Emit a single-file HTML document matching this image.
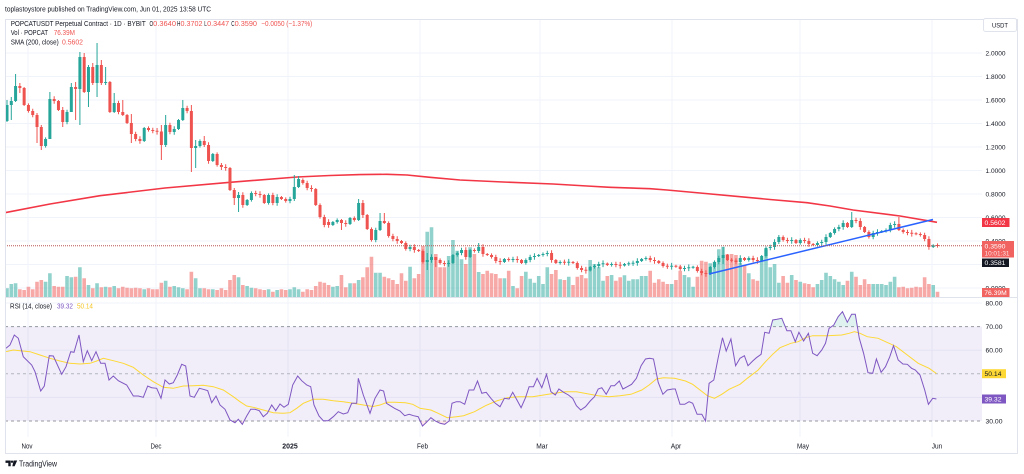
<!DOCTYPE html>
<html><head><meta charset="utf-8">
<style>
html,body{margin:0;padding:0;background:#fff;width:1024px;height:474px;overflow:hidden}
svg{display:block;font-family:"Liberation Sans",sans-serif}
</style></head><body>
<svg id="c" width="1024" height="474" viewBox="0 0 1024 474" xmlns="http://www.w3.org/2000/svg">
<defs>
<clipPath id="ob"><rect x="0" y="290" width="1024" height="36.6"/></clipPath>
<clipPath id="os"><rect x="0" y="421" width="1024" height="16"/></clipPath>
</defs>
<rect width="1024" height="474" fill="#fff"/>
<!-- grid -->
<g stroke="#f0f3fa" stroke-width="1">
<path d="M5 53H982M5 76.5H982M5 100H982M5 123.5H982M5 147H982M5 170.5H982M5 194H982M5 217.5H982M5 241H982M5 264.5H982M5 288H982"/>
<path d="M28 20V437M156 20V437M288 20V437M420 20V437M540 20V437M672 20V437M800 20V437M932 20V437"/>
<path d="M5 303H982M5 350.2H982M5 397.4H982"/>
</g>
<!-- RSI band -->
<rect x="5" y="326.6" width="977" height="94.4" fill="#7e57c2" fill-opacity="0.1"/>
<g stroke="#9598a1" stroke-width="1" stroke-dasharray="3,3">
<path d="M5 326.6H982M5 421H982"/>
<path d="M5 373.8H982" stroke="#b2b5be"/>
</g>
<!-- volume -->
<path id="upV" fill="#26a69a" fill-opacity="0.5"/>
<path id="dnV" fill="#ef5350" fill-opacity="0.5"/>
<!-- SMA -->
<path id="sma" fill="none" stroke="#f23645" stroke-width="1.6" stroke-linejoin="round"/>
<!-- candles -->
<path id="upW" fill="none" stroke="#26a69a" stroke-width="1"/>
<path id="dnW" fill="none" stroke="#ef5350" stroke-width="1"/>
<path id="upB" fill="#26a69a"/>
<path id="dnB" fill="#ef5350"/>
<!-- trendline -->
<line x1="709" y1="274" x2="933" y2="219.5" stroke="#2962ff" stroke-width="1.5"/>
<!-- price line -->
<line x1="5" y1="245.8" x2="982" y2="245.8" stroke="#b85454" stroke-width="1" stroke-dasharray="1,1"/>
<!-- RSI -->
<polygon id="obf" fill="#26a69a" fill-opacity="0.15" clip-path="url(#ob)"/>
<polygon id="osf" fill="#f23645" fill-opacity="0.12" clip-path="url(#os)"/>
<polyline id="rsima" fill="none" stroke="#fdd835" stroke-width="1"/>
<polyline id="rsi" fill="none" stroke="#7e57c2" stroke-width="1"/>
<!-- frame -->
<rect x="5.5" y="19.5" width="1012" height="434" fill="none" stroke="#e0e3eb" stroke-width="1"/>
<line x1="5" y1="297.5" x2="1018" y2="297.5" stroke="#e0e3eb" stroke-width="1"/>

<!-- header -->
<g font-size="7" fill="#131722">
<text x="5" y="11.5" textLength="206" lengthAdjust="spacingAndGlyphs">toplastoystore published on TradingView.com, Jun 01, 2025 13:58 UTC</text>
<text x="10.7" y="26.2" textLength="135" lengthAdjust="spacingAndGlyphs">POPCATUSDT Perpetual Contract · 1D · BYBIT</text>
<text x="149.5" y="26.2" textLength="3.6" lengthAdjust="spacingAndGlyphs">O</text>
<text x="153.2" y="26.2" textLength="22.8" lengthAdjust="spacingAndGlyphs" fill="#ef5350">0.3640</text>
<text x="177" y="26.2" textLength="3.4" lengthAdjust="spacingAndGlyphs">H</text>
<text x="180.5" y="26.2" textLength="22" lengthAdjust="spacingAndGlyphs" fill="#ef5350">0.3702</text>
<text x="204.3" y="26.2" textLength="2.6" lengthAdjust="spacingAndGlyphs">L</text>
<text x="207.2" y="26.2" textLength="22" lengthAdjust="spacingAndGlyphs" fill="#ef5350">0.3447</text>
<text x="231.2" y="26.2" textLength="3.3" lengthAdjust="spacingAndGlyphs">C</text>
<text x="234.6" y="26.2" textLength="22.4" lengthAdjust="spacingAndGlyphs" fill="#ef5350">0.3590</text>
<text x="261.3" y="26.2" textLength="51" lengthAdjust="spacingAndGlyphs" fill="#ef5350">−0.0050 (−1.37%)</text>
<text x="10.7" y="35.2" textLength="37.3" lengthAdjust="spacingAndGlyphs">Vol · POPCAT</text>
<text x="53.7" y="35.2" textLength="21.3" lengthAdjust="spacingAndGlyphs" fill="#ef5350">76.39M</text>
<text x="10.7" y="44.7" textLength="48" lengthAdjust="spacingAndGlyphs">SMA (200, close)</text>
<text x="62" y="44.7" textLength="21" lengthAdjust="spacingAndGlyphs" fill="#ef5350">0.5602</text>
<text x="10" y="308.5" textLength="42" lengthAdjust="spacingAndGlyphs">RSI (14, close)</text>
<text x="57" y="308.5" textLength="16" lengthAdjust="spacingAndGlyphs" fill="#7e57c2">39.32</text>
<text x="77" y="308.5" textLength="16" lengthAdjust="spacingAndGlyphs" fill="#f5c623">50.14</text>
</g>

<!-- price scale -->
<g font-size="6.5" fill="#131722">
<text x="985.5" y="55.3" textLength="20" lengthAdjust="spacingAndGlyphs">2.0000</text>
<text x="985.5" y="78.8" textLength="20" lengthAdjust="spacingAndGlyphs">1.8000</text>
<text x="985.5" y="102.3" textLength="20" lengthAdjust="spacingAndGlyphs">1.6000</text>
<text x="985.5" y="125.8" textLength="20" lengthAdjust="spacingAndGlyphs">1.4000</text>
<text x="985.5" y="149.3" textLength="20" lengthAdjust="spacingAndGlyphs">1.2000</text>
<text x="985.5" y="172.8" textLength="20" lengthAdjust="spacingAndGlyphs">1.0000</text>
<text x="985.5" y="196.3" textLength="20" lengthAdjust="spacingAndGlyphs">0.8000</text>
<text x="985.5" y="219.8" textLength="20" lengthAdjust="spacingAndGlyphs">0.6000</text>
<text x="985.5" y="243.3" textLength="20" lengthAdjust="spacingAndGlyphs">0.4000</text>
<text x="985.5" y="266.8" textLength="20" lengthAdjust="spacingAndGlyphs">0.2000</text>
<text x="985.5" y="290.3" textLength="20" lengthAdjust="spacingAndGlyphs">0.0000</text>
<text x="985.5" y="305.3" textLength="17" lengthAdjust="spacingAndGlyphs">80.00</text>
<text x="985.5" y="328.9" textLength="17" lengthAdjust="spacingAndGlyphs">70.00</text>
<text x="985.5" y="352.5" textLength="17" lengthAdjust="spacingAndGlyphs">60.00</text>
<text x="985.5" y="376.1" textLength="17" lengthAdjust="spacingAndGlyphs">50.00</text>
<text x="985.5" y="399.7" textLength="17" lengthAdjust="spacingAndGlyphs">40.00</text>
<text x="985.5" y="423.3" textLength="17" lengthAdjust="spacingAndGlyphs">30.00</text>
</g>
<!-- USDT box -->
<rect x="983.5" y="18.5" width="33" height="13" rx="2" fill="#fff" stroke="#e0e3eb"/>
<text x="992" y="27.3" font-size="6.5" fill="#131722" textLength="16" lengthAdjust="spacingAndGlyphs">USDT</text>
<!-- value boxes -->
<rect x="982" y="218" width="27.5" height="9" fill="#f23645"/>
<text x="984.5" y="225.1" font-size="6.5" fill="#fff" textLength="21" lengthAdjust="spacingAndGlyphs">0.5602</text>
<rect x="982" y="241" width="32" height="16.5" fill="#f06360"/>
<text x="984.5" y="248.4" font-size="6.5" fill="#fff" textLength="21" lengthAdjust="spacingAndGlyphs">0.3590</text>
<text x="984.5" y="255.4" font-size="6" fill="#fde4e4" textLength="25" lengthAdjust="spacingAndGlyphs">10:01:31</text>
<rect x="982" y="258.5" width="27" height="8.5" fill="#131722"/>
<text x="984.5" y="265.1" font-size="6.5" fill="#fff" textLength="21" lengthAdjust="spacingAndGlyphs">0.3581</text>
<rect x="982" y="288" width="27.5" height="9" fill="#f06360"/>
<text x="984.3" y="295" font-size="6.5" fill="#fff" textLength="22.5" lengthAdjust="spacingAndGlyphs">76.39M</text>
<rect x="982" y="369.2" width="24" height="9" fill="#fdd835"/>
<text x="984.5" y="376" font-size="6.5" fill="#131722" textLength="17" lengthAdjust="spacingAndGlyphs">50.14</text>
<rect x="982" y="394.5" width="24" height="9" fill="#7e57c2"/>
<text x="984.5" y="401.3" font-size="6.5" fill="#fff" textLength="17" lengthAdjust="spacingAndGlyphs">39.32</text>

<!-- time axis -->
<g font-size="7" fill="#131722" text-anchor="middle">
<text x="27" y="448.5" textLength="11" lengthAdjust="spacingAndGlyphs">Nov</text>
<text x="156" y="448.5" textLength="11" lengthAdjust="spacingAndGlyphs">Dec</text>
<text x="290" y="448.5" textLength="15.5" lengthAdjust="spacingAndGlyphs" font-weight="bold">2025</text>
<text x="422.5" y="448.5" textLength="11" lengthAdjust="spacingAndGlyphs">Feb</text>
<text x="542" y="448.5" textLength="11.5" lengthAdjust="spacingAndGlyphs">Mar</text>
<text x="676" y="448.5" textLength="10.5" lengthAdjust="spacingAndGlyphs">Apr</text>
<text x="803" y="448.5" textLength="12" lengthAdjust="spacingAndGlyphs">May</text>
<text x="937" y="448.5" textLength="10.5" lengthAdjust="spacingAndGlyphs">Jun</text>
</g>
<!-- logo -->
<g fill="#131722">
<path d="M5.5 460.5h5.2v5.8h-2.4v-3.4h-2.8z"/>
<circle cx="12" cy="461.7" r="1.2"/>
<path d="M13.6 460.5h3.6l-2.6 5.8h-2.3z"/>
</g>
<text x="19" y="466.5" font-size="8" fill="#131722" textLength="38" lengthAdjust="spacingAndGlyphs">TradingView</text>
</svg>
<script>
(function(){
var C=[[121,105],101,86,88,105,111,115,127,146,139,99,101,110,122,112,87,89,57,92,67,83,65,83,[83,82],112,103,112,115,123,134,139,141,128,130,131,131.5,145,125,132,129,120,108,111,148,146,141,145,161,154,165,167,168,190,198,195,205,200,193,194,195,203,195,203,197,199,201,199,187,179,[180,183],188,189,205,217,225,[222,225],
222,220,223,224,218,220,203,215,229,240,230,221,223,236,239,241,243,249,247,250,251,262,260,257,260,263,264,263,255,253,250,257,250,251,247,254,255,257,261,262,259,260,259,260,263,260,257,256,255,254,253,260,263,262,262.5,262,263,268,270,270.5,267,266,264,263.5,265,264,265,265.5,264,263.5,263,261,259,258,
260,261,263,266,266.5,266,266.5,269,268,267.5,267,271,273,274,267,262,258,255,260,260.5,262,258,260,258,260,261,256,248,247,242,237,240,241,240,243,240,241,244,245,243,242,237,233,229,227,223,227,220,221,227,232,237,233,232,231,230,225,224,230,232,233,233.5,234,235,239,247,245.2,245.8];
var V=[288.3,284,283.3,289.3,290,286.7,289.3,281.7,280,281.7,273.3,286,286.7,286.7,276,277.3,276.7,267.3,278.3,285,288.3,283.3,287.3,286.7,287.3,286,288.3,286.7,287.7,288.3,287.7,288.3,289.3,288.3,289.3,289.3,282.7,280.7,286.7,286,287.3,288.3,289.3,271.7,278.3,288.3,288.3,289.3,289.3,290,288.3,290,280,275,277.3,285,286,287.7,288.3,289.3,290,289.3,291.7,290,289.3,290,289.3,287.3,289.3,291.7,289.3,290,286,281.7,282.7,285,
286.7,286,275,287.3,283.3,283.3,280,277.3,267.3,256.7,272.7,272.7,276.7,278.3,280,284,273.3,280.7,266.7,278.3,274,246,231.7,227.3,254,267.3,267.3,256,240,250.7,259.3,264,247.3,254,272,274,270.7,273.3,274,278.3,278.3,270.7,286,288.3,276,271.7,278.7,282.7,276,284,267.3,274,270,279.3,280,276.7,285,276.7,275,278.3,260,264,267.3,280.7,276,275,280.7,277.3,275.3,280.7,279.3,279.3,276,276,
270.7,282.7,279.3,281.7,284,284,280,270.7,275,277.3,286.7,276.7,260.7,261.7,263.3,261.7,249.3,246.7,254,254,255,262.7,265,273.3,279.3,280.7,260.7,249.3,267.3,264,282.7,276,282.7,275,280,281.7,283.3,284,287.3,284,280,272.7,276,279.3,281.7,285,280.7,271.7,276.7,285,279.3,284,284,284,284,285,281.7,276.7,287.3,286.7,288.3,287.7,286.7,287.3,277.3,284,285,291.7];
var W={0:[100,122],1:[97,120],2:[74,102],3:[83,93],7:[113,143],8:[125,150],10:[92,139],13:[107,127],15:[83,112],16:[82,120],17:[52,125],18:[53,93],19:[65,107],20:[63,85],21:[43,97],22:[60,85],23:[67,85],25:[93,113],27:[100,116],29:[114,143],36:[125,160],37:[115,147],41:[100,121],43:[105,172],44:[140,168],46:[136,147],50:[163,170],53:[188,205],54:[192,212],67:[175,201],68:[176,188],78:[219,230],82:[199,221],83:[200,218],87:[213,231],88:[213,224],98:[253,270],100:[258,267],110:[243,253],167:[247,264],180:[235,244],197:[212,228],208:[217,231]};
var prev=121,uW='',uB='',dW='',dB='',uV='',dV='';
for(var i=0;i<C.length;i++){
 var o,c;
 if(Array.isArray(C[i])){o=C[i][0];c=C[i][1];}else{o=prev;c=C[i];}
 prev=c;
 var x=7+i*4.288, up=c<=o;
 var t=Math.min(o,c),b=Math.max(o,c);
 if(b-t<1){var m=(t+b)/2;t=m-0.5;b=m+0.5;}
 var hi,lo;
 if(W[i]){hi=W[i][0];lo=W[i][1];}else{hi=t-1-((i*37)%4)*0.6;lo=b+1+((i*53)%4)*0.6;}
 var wk='M'+x.toFixed(2)+' '+hi.toFixed(1)+'V'+lo.toFixed(1);
 var bd='M'+(x-1.5).toFixed(2)+' '+t.toFixed(1)+'h3V'+b.toFixed(1)+'h-3Z';
 var vt=V[i]!==undefined?V[i]:290;
 var vl='M'+(x-1.8).toFixed(2)+' '+vt+'h3.6V297h-3.6Z';
 if(up){uW+=wk;uB+=bd;uV+=vl;}else{dW+=wk;dB+=bd;dV+=vl;}
}
function s(id,a,v){document.getElementById(id).setAttribute(a,v);}
s('upW','d',uW);s('dnW','d',dW);s('upB','d',uB);s('dnB','d',dB);s('upV','d',uV);s('dnV','d',dV);
var S=[5,212.7,50,204,100,195.7,165,188,230,182.3,297,177,330,175.5,360,174.6,387,174.3,407,175,430,177.3,460,180,503,182,553,184,587,186,610,187.3,650,188.7,667,190,700,193,740,196.7,770,199.5,807,202.7,830,206,853,210,900,216,937,222.3];
var d='';for(var k=0;k<S.length;k+=2){d+=(k?'L':'M')+S[k]+' '+S[k+1];}
s('sma','d',d);
var R=[6,348.3,10,345,14.3,335,18.3,338.3,23.3,356.7,31.7,365,35,371.7,40.7,391,44.3,386,49.3,355.7,53.3,356,61.7,374.3,66,366.7,70.7,351.7,74,352.3,79,335,83.3,361.7,87.3,350.7,91.7,360.7,96,351.7,100.7,363.3,105,363.3,109,380,113.3,376,118.3,380.7,126.7,385,133.3,396,138.3,396,143.3,397.3,147.7,386,151.7,387.7,156.7,388.3,161,398.3,165,380,169.3,384,173.3,382.7,177.3,375,181.7,364.3,185.7,366,190,396,194.3,397.3,199.3,388.3,203.3,389.3,207.7,390.7,211.7,402.7,216,396,220,405,225,409.3,230,420,235,422.7,238.3,419.3,242.3,424.3,246.7,416,250.7,409.3,255,409.3,259.3,410.7,263.3,416.7,267.3,413.3,271.7,405,275.7,410.7,280,404,284,407.3,288.3,404.3,292.7,385,297.7,376,301.7,380.7,306.7,385,310.7,386.7,314,405,319,416,323.3,420.7,328.3,420.7,333.3,416.7,338.3,411.7,343.3,414,347.7,412.7,351.7,403.3,356.7,403.3,358.3,378.3,363.3,395,370,413.3,375,398.3,
380,390,383.6,391,386.5,403.3,394.5,408.3,400,411,404.7,415.7,409.1,414.3,413.5,415.7,418.2,416.7,422.5,426,426.5,422.3,430.9,417.7,435.3,421,440,423.3,444.7,424.3,449.1,421,452,403.3,456.4,401.7,460,401.7,464.7,404.3,469.1,390,473.8,390,477.5,381,481.8,393.3,486.2,392.3,490.9,398.3,495.3,403.3,500,406.7,504.4,398.3,509.1,399,512.7,392.3,516.4,399,521.1,407.7,525.5,397.7,529.1,386.7,533.5,386.7,537.1,378.3,541.8,387.7,546.5,374.3,550.9,391.7,555.3,395,558.9,389,563.6,392.3,568.4,395,572.7,398.3,576.4,405.7,580.7,410,585.5,406.7,590.2,401,594.5,396.7,598.2,389,601.8,387.7,606.2,394.3,610.9,385.7,614.5,385.7,619.3,381,622.9,389,627.3,386.7,631.6,384.3,636.4,378.3,641.1,365.7,645.5,359,649.8,358.3,653.5,359,658.2,382.3,662.9,394.3,667.3,390,672.7,389,675.3,389,680,404.3,684.7,404.3,689.1,401.7,692.7,403.3,697.1,414.3,701.8,414.3,705.5,421,709.1,383.3,713.8,380,718.2,357.7,722.5,337.7,726.2,351,730.9,339,735.6,365.7,740,358.3,744.4,355.7,748,365.7,752.7,361,756.4,357.7,761.1,354.3,764.7,332.3,769.1,333.3,772.7,320,777.1,319.3,781.8,318.3,786.9,330.7,790.9,330.7,795.3,341.7,798.9,332.3,803.6,341,808.4,333.3,812.7,353.3,817.1,355.7,821.8,350,825.5,343.3,829.1,328.3,833.8,325,838.2,316.7,842.5,311.7,847.3,322.3,851.6,314.3,855.3,314.3,859.3,338.3,863.6,353.3,868,372.7,872.7,373.3,876.4,359,881.1,372.3,885.5,366.7,889.8,356.7,893.5,345.7,898.2,360,902.9,364,907.3,364.3,911.6,368.3,915.3,370,920,375,924.7,390,928.4,404.3,932.7,398.3,936.4,399];
var M=[6,351.7,13.3,350,20,350.7,30,351.7,40,355,50,358.3,60,361,70,363.3,80,364,90,363.3,96.7,361,103.3,358.3,113.3,360.7,123.3,363.3,133.3,367.3,143.3,375,153.3,381.7,163.3,387.3,173.3,388.3,183.3,386,193.3,385.7,203.3,385.3,213.3,386.7,223.3,390,233.3,396.7,240,401.7,246.7,406,253.3,407.3,263.3,410,273.3,412.7,283.3,413.3,290,412.7,296.7,408.3,303.3,403.3,313.3,399.3,323.3,399.3,333.3,400.7,343.3,401.7,353.3,403.3,363.3,405,373.3,406.5,
380,405,387.3,402.3,394.5,402.3,405.5,402.7,412.7,404.3,420,408.3,430.9,410,438.2,413.3,447.3,417.7,456.4,416.7,463.6,415.7,474.5,411.7,485.5,405.7,496.4,401,507.3,397.7,518.2,396.7,532.7,396.7,543.6,395,554.5,393.3,565.5,391.7,576.4,391.7,587.3,393.7,598.2,395.7,609.1,396.7,620,395.7,630.9,394.3,641.8,390,649.1,385,656.4,379,663.6,377.7,674.5,378.3,685.5,381,692.7,384.3,700,390,707.3,395.7,714.5,398.3,721.8,394.3,729.1,389.3,740,384.3,747.3,378.3,758.2,370,765.5,361.7,772.7,354.3,780,347.7,790.9,343.3,798.2,341.7,805.5,337.7,812.7,335.7,827.3,335.7,841.8,335,849.1,333.3,854.5,331.7,860,333.3,867.3,336.7,878.2,338.3,889.1,343.3,896.4,346.7,907.3,355,918.2,363.3,929.1,368.3,936.4,373.5];
function pts(a){var r=[];for(var k=0;k<a.length;k+=2)r.push(a[k]+','+a[k+1]);return r.join(' ');}
var rp=pts(R);
s('rsi','points',rp);s('rsima','points',pts(M));
s('obf','points',rp+' 936.4,326.6 6,326.6');
s('osf','points',rp+' 936.4,421 6,421');
})();
</script>
</body></html>
